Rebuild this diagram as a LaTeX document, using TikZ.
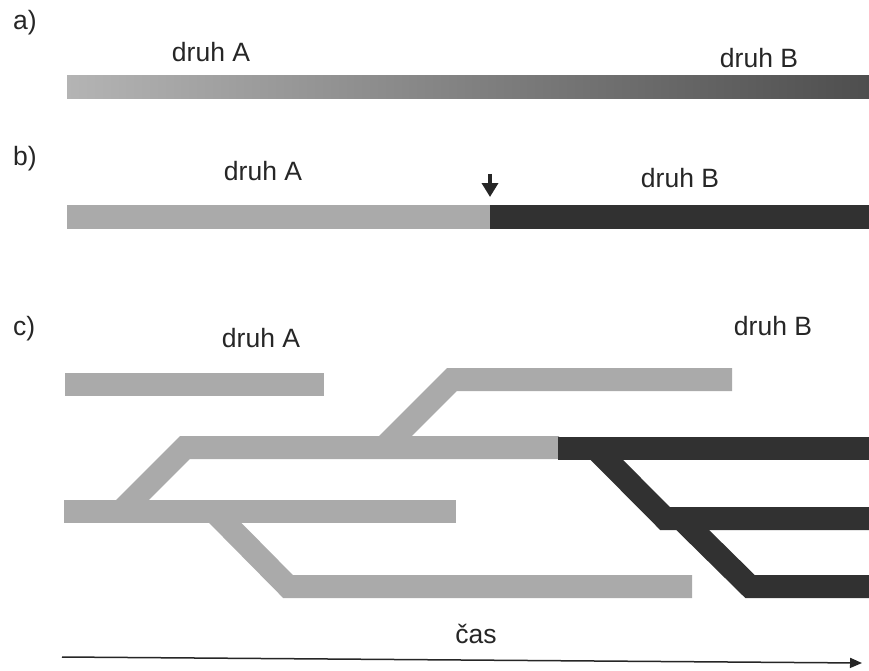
\documentclass[tikz,border=0pt]{standalone}
\usepackage{fontspec}
\setmainfont{Liberation Sans}
\usetikzlibrary{arrows.meta}
\definecolor{lightbar}{HTML}{AAAAAA}
\definecolor{darkbar}{HTML}{313131}
\definecolor{gradA}{HTML}{B4B4B4}
\definecolor{gradB}{HTML}{4E4E4E}
\definecolor{inkline}{HTML}{262626}
\begin{document}
\begin{tikzpicture}[x=1pt,y=-1pt,
  lbl/.style={font=\fontsize{26.5}{30}\selectfont, text=inkline, inner sep=0pt, anchor=base},
  panel/.style={lbl, anchor=base west},
  lineage/.style={line width=23pt, line cap=butt, line join=miter},
  speciesA/.style={lineage, draw=lightbar},
  speciesB/.style={lineage, draw=darkbar}]
\useasboundingbox[fill=white] (0,0) rectangle (869,671);

% ---- a) gradual change along one lineage
\node[panel] (pa) at (13,30) {a)};
\node[lbl] (aA) at (211,62) {druh A};
\node[lbl] (aB) at (759,68) {druh B};
\shade[left color=gradA, right color=gradB] (67,76) rectangle (869,99);

% ---- b) abrupt change at one point in time
\node[panel] (pb) at (13,165) {b)};
\node[lbl] (bA) at (263,181) {druh A};
\node[lbl] (bB) at (680,187) {druh B};
\fill[lightbar] (67,205) rectangle (490,229);
\fill[darkbar] (490,205) rectangle (869,229);
\coordinate (mTop) at (490,174);
\coordinate (mTip) at (490,197);
\draw[inkline, line width=4pt, -{Triangle[length=14pt,width=16pt]}] (mTop) -- (mTip);

% ---- c) branching lineages
\node[panel] (pc) at (13,335) {c)};
\node[lbl] (cA) at (261,347) {druh A};
\node[lbl] (cB) at (773,335) {druh B};

\draw[speciesA] (65,384.5) -- (324,384.5);
\draw[speciesA] (64,511.5) -- (456,511.5);
\draw[speciesA] (121,511.5) -- (185,447.5) -- (559,447.5);
\draw[speciesA] (384,447.5) -- (452,379.5) -- (732,379.5);
\draw[speciesA] (214,511.5) -- (288,586.5) -- (692,586.5);

\draw[speciesB] (558,448) -- (869,448);
\draw[speciesB] (595,448) -- (665,518.5) -- (869,518.5);
\draw[speciesB] (681,518.5) -- (750,586.5) -- (869,586.5);

% ---- time axis
\node[lbl] (cas) at (476,643) {čas};
\coordinate (t0) at (62,657);
\coordinate (t1) at (862,663);
\draw[inkline, line width=1.5pt, -{Triangle[length=12pt,width=10pt]}] (t0) -- (t1);
\end{tikzpicture}
\end{document}
